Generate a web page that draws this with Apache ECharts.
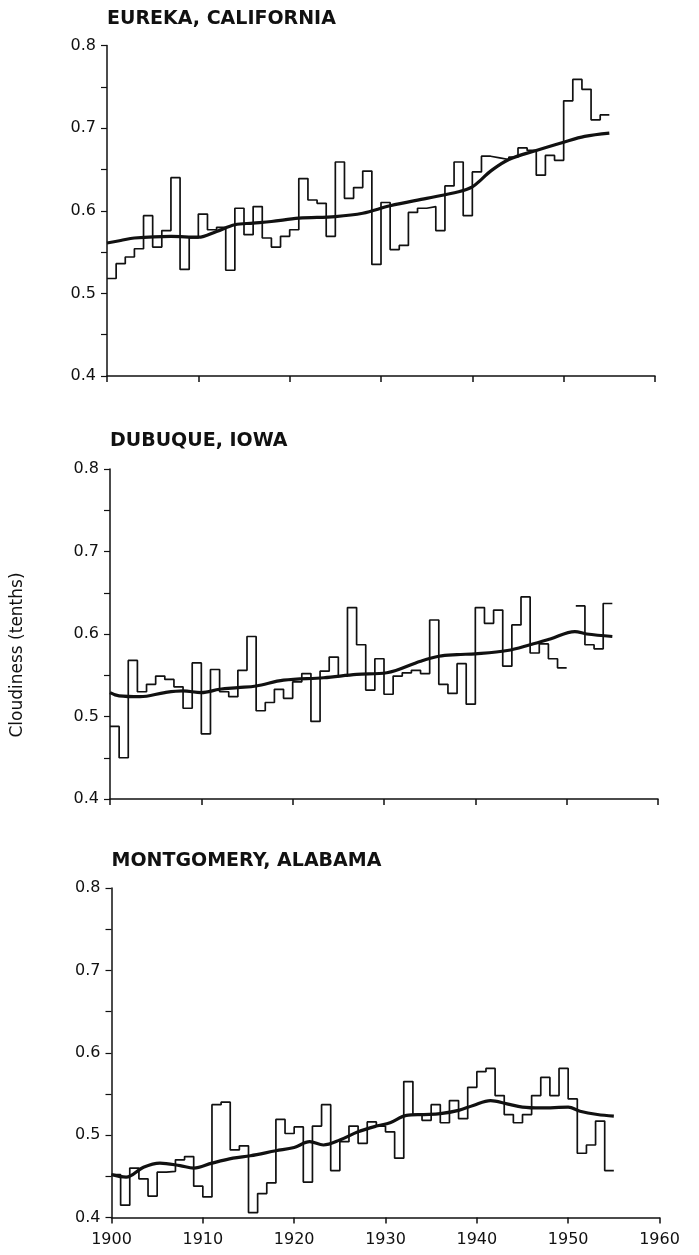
<!DOCTYPE html>
<html><head><meta charset="utf-8">
<script src="https://cdn.jsdelivr.net/npm/echarts@6/dist/echarts.min.js"></script>
<style>html,body{margin:0;padding:0;background:#fff}#c{width:699px;height:1255px}</style>
</head><body><div id="c"></div>
<script>
// ---- data ----
const firstYear = 1900;
const titles = ["EUREKA, CALIFORNIA", "DUBUQUE, IOWA", "MONTGOMERY, ALABAMA"];
const yAxisName = "Cloudiness (tenths)";
const xTickValues = [1900, 1910, 1920, 1930, 1940, 1950, 1960];
const yTickValues = [0.4, 0.5, 0.6, 0.7, 0.8];

// annual values 1900..1954 (null = missing year)
const eurekaAnnual = [
  0.518, 0.536, 0.544, 0.554, 0.594, 0.556, 0.576, 0.640, 0.529, 0.567,
  0.596, 0.577, 0.580, 0.528, 0.603, 0.571, 0.605, 0.567, 0.556, 0.569,
  0.577, 0.639, 0.613, 0.609, 0.569, 0.659, 0.615, 0.628, 0.648, 0.535,
  0.610, 0.553, 0.558, 0.598, 0.603, 0.605, 0.576, 0.630, 0.659, 0.594,
  0.647, 0.666, 0.664, 0.662, 0.665, 0.676, 0.673, 0.643, 0.667, 0.661,
  0.733, 0.759, 0.747, 0.710, 0.716
];
const dubuqueAnnual = [
  0.488, 0.450, 0.568, 0.530, 0.539, 0.549, 0.545, 0.536, 0.510, 0.565,
  0.479, 0.557, 0.530, 0.524, 0.556, 0.597, 0.507, 0.517, 0.533, 0.522,
  0.542, 0.552, 0.494, 0.555, 0.572, 0.549, 0.632, 0.587, 0.532, 0.570,
  0.527, 0.549, 0.553, 0.556, 0.552, 0.617, 0.539, 0.528, 0.564, 0.515,
  0.632, 0.613, 0.629, 0.561, 0.611, 0.645, 0.577, 0.588, 0.570, 0.559,
  null, 0.634, 0.587, 0.582, 0.637
];
const montgomeryAnnual = [
  0.452, 0.415, 0.460, 0.447, 0.426, 0.455, 0.456, 0.470, 0.474, 0.438,
  0.425, 0.537, 0.540, 0.482, 0.487, 0.406, 0.429, 0.442, 0.519, 0.502,
  0.510, 0.443, 0.511, 0.537, 0.457, 0.492, 0.511, 0.490, 0.516, 0.511,
  0.504, 0.472, 0.565, 0.525, 0.518, 0.537, 0.515, 0.542, 0.520, 0.558,
  0.577, 0.581, 0.548, 0.525, 0.515, 0.525, 0.548, 0.570, 0.548, 0.581,
  0.544, 0.478, 0.488, 0.517, 0.457
];

// smoothed curves: [year, value]
const eurekaSmooth = [
  [1900, 0.561], [1901.5, 0.564], [1903, 0.567], [1907, 0.569], [1910, 0.568],
  [1912, 0.575], [1914, 0.583], [1916, 0.585], [1918, 0.587], [1921, 0.591],
  [1925, 0.593], [1928, 0.597], [1931, 0.606], [1935, 0.615], [1938.5, 0.623],
  [1940, 0.629], [1941, 0.638], [1942, 0.648], [1944, 0.662], [1947, 0.673],
  [1950, 0.683], [1952.3, 0.690], [1955, 0.694]
];
const dubuqueSmooth = [
  [1900, 0.529], [1901, 0.525], [1903.3, 0.524], [1906, 0.529], [1908, 0.531],
  [1910, 0.529], [1912, 0.533], [1914, 0.535], [1916, 0.537], [1919, 0.544],
  [1923.4, 0.547], [1927, 0.551], [1930.3, 0.553], [1934, 0.567], [1936, 0.573],
  [1938, 0.575], [1940, 0.576], [1943.5, 0.580], [1946, 0.587], [1948.2, 0.594],
  [1950.9, 0.603], [1952.2, 0.600], [1955, 0.597]
];
const montgomerySmooth = [
  [1900, 0.452], [1901.6, 0.449], [1903.5, 0.461], [1905.3, 0.466], [1907.5, 0.463],
  [1909, 0.460], [1911, 0.466], [1913.3, 0.472], [1915.2, 0.475], [1918, 0.481],
  [1920, 0.485], [1921.7, 0.492], [1923.2, 0.488], [1925, 0.494], [1927, 0.504],
  [1929, 0.511], [1930.5, 0.515], [1932.3, 0.524], [1934.2, 0.525], [1936, 0.526],
  [1938, 0.530], [1939.6, 0.536], [1941.5, 0.542], [1943.3, 0.538], [1945, 0.534],
  [1947, 0.533], [1950, 0.534], [1951.3, 0.529], [1953.2, 0.525], [1955, 0.523]
];

// ---- build ----
function stepData(vals) {
  const out = [];
  vals.forEach((v, i) => {
    const yr = firstYear + i;
    if (v === null) { out.push([yr, '-']); }
    else { out.push([yr, v]); out.push([yr + 1, v]); }
  });
  return out;
}

const FONT = 'DejaVu Sans';
const ink = '#111';
const panels = [
  { annual: eurekaAnnual, smooth: eurekaSmooth, left: 107, top: 45.5, height: 330.5, titleTop: 10 },
  { annual: dubuqueAnnual, smooth: dubuqueSmooth, left: 110, top: 469, height: 330, titleTop: 432 },
  { annual: montgomeryAnnual, smooth: montgomerySmooth, left: 111.5, top: 888, height: 329.5, titleTop: 852 }
];

const option = {
  animation: false,
  backgroundColor: '#fff',
  title: panels.map((p, i) => ({
    text: titles[i], left: p.left, top: p.titleTop, padding: 0,
    textStyle: { fontFamily: FONT, fontWeight: 'bold', fontSize: 19, color: ink }
  })),
  graphic: [{
    type: 'text', x: 18, y: 655, rotation: Math.PI / 2,
    style: { text: yAxisName, fontFamily: FONT, fontSize: 17, fill: ink, align: 'center', verticalAlign: 'middle' }
  }],
  grid: panels.map(p => ({ left: p.left, top: p.top, width: 548, height: p.height })),
  xAxis: panels.map((p, i) => ({
    type: 'value', gridIndex: i, min: xTickValues[0], max: xTickValues[xTickValues.length - 1], interval: 10,
    axisLine: { lineStyle: { color: ink, width: 1.5 } },
    axisTick: { show: true, length: 6, lineStyle: { color: ink, width: 1.5 } },
    axisLabel: { show: i === 2, color: ink, fontFamily: FONT, fontSize: 16, margin: 14,
      formatter: v => String(v) },
    splitLine: { show: false }
  })),
  yAxis: panels.map((p, i) => ({
    type: 'value', gridIndex: i, min: yTickValues[0], max: yTickValues[yTickValues.length - 1], interval: 0.05,
    axisLine: { show: true, lineStyle: { color: ink, width: 1.5 } },
    axisTick: { show: true, length: 6, lineStyle: { color: ink, width: 1.2 } },
    axisLabel: {
      color: ink, fontFamily: FONT, fontSize: 16, margin: 11,
      formatter: v => (yTickValues.some(t => Math.abs(t - v) < 1e-6) ? v.toFixed(1) : '')
    },
    splitLine: { show: false }
  })),
  series: panels.flatMap((p, i) => ([
    {
      type: 'line', xAxisIndex: i, yAxisIndex: i, data: stepData(p.annual),
      showSymbol: false, symbol: 'none', connectNulls: false,
      lineStyle: { color: ink, width: 1.7 }
    },
    {
      type: 'line', xAxisIndex: i, yAxisIndex: i, data: p.smooth,
      showSymbol: false, symbol: 'none', smooth: 0.35,
      lineStyle: { color: ink, width: 3.2 }
    }
  ]))
};

const chart = echarts.init(document.getElementById('c'), null, { renderer: 'canvas' });
chart.setOption(option);
</script>
</body></html>
